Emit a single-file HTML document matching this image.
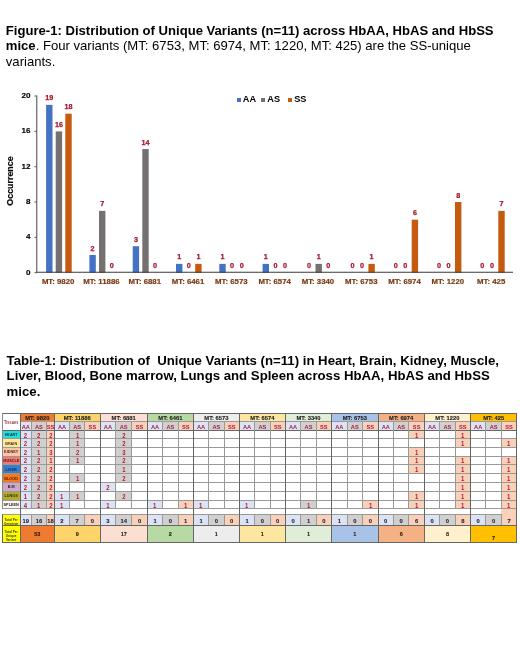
<!DOCTYPE html>
<html><head><meta charset="utf-8"><style>
*{margin:0;padding:0;box-sizing:border-box}
html,body{-webkit-font-smoothing:antialiased;width:520px;height:650px;background:#fff;overflow:hidden;position:relative;font-family:"Liberation Sans", sans-serif}
div,span,svg{position:absolute}
.cap{color:#000;white-space:normal}
.t{white-space:nowrap;display:block}
.ax{font-size:8.1px;font-weight:bold;color:#000;-webkit-text-stroke:0.15px #000;line-height:10px;text-align:right}
.dl{font-size:7.2px;font-weight:bold;color:#a8142c;-webkit-text-stroke:0.25px #a8142c;width:20px;text-align:center;line-height:10px}
.cl{font-size:7.8px;font-weight:bold;color:#7a3a14;-webkit-text-stroke:0.2px #7a3a14;width:50px;text-align:center;line-height:10px}
.lg{font-size:9.2px;font-weight:bold;color:#000;line-height:11px}
.yt{font-size:8.9px;font-weight:bold;color:#000;-webkit-text-stroke:0.15px #000;transform:rotate(-90deg);width:50px;text-align:center;line-height:10px}
.th{font-size:5.8px;font-weight:bold;color:#1e1e1e;text-align:center;line-height:7px;-webkit-text-stroke:0.12px #1e1e1e}
.sh{font-size:5.7px;font-weight:bold;color:#a8204a;text-align:center;line-height:7px}
.tis{font-size:4.6px;font-weight:bold;color:#a03a50;text-align:center;line-height:5px;transform:scaleX(0.85)}
.tn{font-size:4.4px;font-weight:bold;color:#333;text-align:center;line-height:5px;transform:scaleX(0.86);transform-origin:50% 50%}
.dv{font-size:6.6px;font-weight:bold;color:#b81a36;text-align:center;line-height:7px;transform:scaleX(0.9)}
.tv{font-size:5.8px;font-weight:bold;color:#1e1e30;text-align:center;line-height:7px;-webkit-text-stroke:0.1px #1e1e30}
.uv{font-size:5.5px;font-weight:bold;color:#2a1a0a;text-align:center;line-height:7px;-webkit-text-stroke:0.1px #2a1a0a}
.tl2{font-size:3.4px;font-weight:bold;color:#3a3a10;text-align:center;line-height:4.1px;transform:scaleX(0.92)}
</style></head>
<body><div id="root" style="left:0;top:0;width:520px;height:650px;will-change:transform;filter:blur(0.3px)">
<div class="cap" style="left:5.8px;top:22.92px;width:520px;font-size:13.1px;line-height:15.5px;white-space:nowrap">
<b>Figure-1: Distribution of Unique Variants (n=11) across HbAA, HbAS and HbSS</b><br><b>mice</b>. Four variants (MT: 6753, MT: 6974, MT: 1220, MT: 425) are the SS-unique<br>variants.</div>
<div class="cap" style="left:6.6px;top:352.5px;width:520px;font-size:13.2px;line-height:15.6px;font-weight:bold;white-space:nowrap">Table-1: Distribution of&nbsp; Unique Variants (n=11) in Heart, Brain, Kidney, Muscle,<br>Liver, Blood, Bone marrow, Lungs and Spleen across HbAA, HbAS and HbSS<br>mice.</div>
<svg width="520" height="650" style="position:absolute;left:0;top:0">
<line x1="36.7" y1="95.5" x2="36.7" y2="272" stroke="#7f7f7f" stroke-width="1.5"/>
<line x1="34.5" y1="272.70" x2="36.8" y2="272.70" stroke="#595959" stroke-width="1"/>
<line x1="34.5" y1="237.37" x2="36.8" y2="237.37" stroke="#595959" stroke-width="1"/>
<line x1="34.5" y1="202.04" x2="36.8" y2="202.04" stroke="#595959" stroke-width="1"/>
<line x1="34.5" y1="166.70" x2="36.8" y2="166.70" stroke="#595959" stroke-width="1"/>
<line x1="34.5" y1="131.37" x2="36.8" y2="131.37" stroke="#595959" stroke-width="1"/>
<line x1="34.5" y1="96.04" x2="36.8" y2="96.04" stroke="#595959" stroke-width="1"/>
<rect x="46.10" y="104.87" width="6.4" height="167.83" fill="#4472c4"/>
<rect x="55.70" y="131.37" width="6.4" height="141.33" fill="#767171"/>
<rect x="65.30" y="113.71" width="6.4" height="158.99" fill="#c55a11"/>
<rect x="89.40" y="255.03" width="6.4" height="17.67" fill="#4472c4"/>
<rect x="99.00" y="210.87" width="6.4" height="61.83" fill="#767171"/>
<rect x="132.70" y="246.20" width="6.4" height="26.50" fill="#4472c4"/>
<rect x="142.30" y="149.04" width="6.4" height="123.66" fill="#767171"/>
<rect x="176.00" y="263.87" width="6.4" height="8.83" fill="#4472c4"/>
<rect x="195.20" y="263.87" width="6.4" height="8.83" fill="#c55a11"/>
<rect x="219.30" y="263.87" width="6.4" height="8.83" fill="#4472c4"/>
<rect x="262.60" y="263.87" width="6.4" height="8.83" fill="#4472c4"/>
<rect x="315.50" y="263.87" width="6.4" height="8.83" fill="#767171"/>
<rect x="368.40" y="263.87" width="6.4" height="8.83" fill="#c55a11"/>
<rect x="411.70" y="219.70" width="6.4" height="53.00" fill="#c55a11"/>
<rect x="455.00" y="202.04" width="6.4" height="70.66" fill="#c55a11"/>
<rect x="498.30" y="210.87" width="6.4" height="61.83" fill="#c55a11"/>
<line x1="36" y1="272.2" x2="513" y2="272.2" stroke="#3a3a3a" stroke-width="1.1"/>
</svg>
<span class="t ax" style="right:489.6px;top:267.60px;">0</span>
<span class="t ax" style="right:489.6px;top:232.27px;">4</span>
<span class="t ax" style="right:489.6px;top:196.94px;">8</span>
<span class="t ax" style="right:489.6px;top:161.60px;">12</span>
<span class="t ax" style="right:489.6px;top:126.27px;">16</span>
<span class="t ax" style="right:489.6px;top:90.94px;">20</span>
<span class="t dl" style="left:39.30px;top:93.47px;">19</span>
<span class="t dl" style="left:48.90px;top:119.97px;">16</span>
<span class="t dl" style="left:58.50px;top:102.31px;">18</span>
<span class="t dl" style="left:82.60px;top:243.63px;">2</span>
<span class="t dl" style="left:92.20px;top:199.47px;">7</span>
<span class="t dl" style="left:101.80px;top:261.30px;">0</span>
<span class="t dl" style="left:125.90px;top:234.80px;">3</span>
<span class="t dl" style="left:135.50px;top:137.64px;">14</span>
<span class="t dl" style="left:145.10px;top:261.30px;">0</span>
<span class="t dl" style="left:169.20px;top:252.47px;">1</span>
<span class="t dl" style="left:178.80px;top:261.30px;">0</span>
<span class="t dl" style="left:188.40px;top:252.47px;">1</span>
<span class="t dl" style="left:212.50px;top:252.47px;">1</span>
<span class="t dl" style="left:222.10px;top:261.30px;">0</span>
<span class="t dl" style="left:231.70px;top:261.30px;">0</span>
<span class="t dl" style="left:255.80px;top:252.47px;">1</span>
<span class="t dl" style="left:265.40px;top:261.30px;">0</span>
<span class="t dl" style="left:275.00px;top:261.30px;">0</span>
<span class="t dl" style="left:299.10px;top:261.30px;">0</span>
<span class="t dl" style="left:308.70px;top:252.47px;">1</span>
<span class="t dl" style="left:318.30px;top:261.30px;">0</span>
<span class="t dl" style="left:342.40px;top:261.30px;">0</span>
<span class="t dl" style="left:352.00px;top:261.30px;">0</span>
<span class="t dl" style="left:361.60px;top:252.47px;">1</span>
<span class="t dl" style="left:385.70px;top:261.30px;">0</span>
<span class="t dl" style="left:395.30px;top:261.30px;">0</span>
<span class="t dl" style="left:404.90px;top:208.30px;">6</span>
<span class="t dl" style="left:429.00px;top:261.30px;">0</span>
<span class="t dl" style="left:438.60px;top:261.30px;">0</span>
<span class="t dl" style="left:448.20px;top:190.64px;">8</span>
<span class="t dl" style="left:472.30px;top:261.30px;">0</span>
<span class="t dl" style="left:481.90px;top:261.30px;">0</span>
<span class="t dl" style="left:491.50px;top:199.47px;">7</span>
<span class="t cl" style="left:33.15px;top:277px;">MT: 9820</span>
<span class="t cl" style="left:76.45px;top:277px;">MT: 11886</span>
<span class="t cl" style="left:119.75px;top:277px;">MT: 6881</span>
<span class="t cl" style="left:163.05px;top:277px;">MT: 6461</span>
<span class="t cl" style="left:206.35px;top:277px;">MT: 6573</span>
<span class="t cl" style="left:249.65px;top:277px;">MT: 6574</span>
<span class="t cl" style="left:292.95px;top:277px;">MT: 3340</span>
<span class="t cl" style="left:336.25px;top:277px;">MT: 6753</span>
<span class="t cl" style="left:379.55px;top:277px;">MT: 6974</span>
<span class="t cl" style="left:422.85px;top:277px;">MT: 1220</span>
<span class="t cl" style="left:466.15px;top:277px;">MT: 425</span>
<div style="left:236.60px;top:97.80px;width:4.00px;height:4.00px;background:#4472c4"></div>
<span class="t lg" style="left:242.80px;top:94px;">AA</span>
<div style="left:261.10px;top:97.80px;width:4.00px;height:4.00px;background:#767171"></div>
<span class="t lg" style="left:267.30px;top:94px;">AS</span>
<div style="left:288.00px;top:97.80px;width:4.00px;height:4.00px;background:#c55a11"></div>
<span class="t lg" style="left:294.20px;top:94px;">SS</span>
<span class="t yt" style="left:-15px;top:176px;">Occurrence</span>
<div style="left:2.00px;top:413.30px;width:514.80px;height:128.70px;background:#fff"></div>
<div style="left:20.30px;top:413.30px;width:34.10px;height:8.50px;background:#ef7b30"></div>
<span class="t th" style="left:20.30px;width:34.10px;top:414.50px;">MT: 9820</span>
<div style="left:54.40px;top:413.30px;width:45.60px;height:8.50px;background:#fdd36a"></div>
<span class="t th" style="left:54.40px;width:45.60px;top:414.50px;">MT: 11886</span>
<div style="left:100.00px;top:413.30px;width:47.40px;height:8.50px;background:#fbdfd2"></div>
<span class="t th" style="left:100.00px;width:47.40px;top:414.50px;">MT: 6881</span>
<div style="left:147.40px;top:413.30px;width:46.00px;height:8.50px;background:#b7daa2"></div>
<span class="t th" style="left:147.40px;width:46.00px;top:414.50px;">MT: 6461</span>
<div style="left:193.40px;top:413.30px;width:46.00px;height:8.50px;background:#ededed"></div>
<span class="t th" style="left:193.40px;width:46.00px;top:414.50px;">MT: 6573</span>
<div style="left:239.40px;top:413.30px;width:46.00px;height:8.50px;background:#fde6a0"></div>
<span class="t th" style="left:239.40px;width:46.00px;top:414.50px;">MT: 6574</span>
<div style="left:285.40px;top:413.30px;width:46.20px;height:8.50px;background:#e0eed8"></div>
<span class="t th" style="left:285.40px;width:46.20px;top:414.50px;">MT: 3340</span>
<div style="left:331.60px;top:413.30px;width:46.40px;height:8.50px;background:#a9c2e8"></div>
<span class="t th" style="left:331.60px;width:46.40px;top:414.50px;">MT: 6753</span>
<div style="left:378.00px;top:413.30px;width:46.40px;height:8.50px;background:#f4b183"></div>
<span class="t th" style="left:378.00px;width:46.40px;top:414.50px;">MT: 6974</span>
<div style="left:424.40px;top:413.30px;width:46.10px;height:8.50px;background:#fff1cc"></div>
<span class="t th" style="left:424.40px;width:46.10px;top:414.50px;">MT: 1220</span>
<div style="left:470.50px;top:413.30px;width:46.30px;height:8.50px;background:#ffc000"></div>
<span class="t th" style="left:470.50px;width:46.30px;top:414.50px;">MT: 425</span>
<div style="left:20.30px;top:421.80px;width:11.00px;height:8.50px;background:#dbe3f4"></div>
<span class="t sh" style="left:20.30px;width:11.00px;top:423.70px;">AA</span>
<div style="left:31.30px;top:421.80px;width:15.30px;height:8.50px;background:#d2cfcf"></div>
<span class="t sh" style="left:31.30px;width:15.30px;top:423.70px;">AS</span>
<div style="left:46.60px;top:421.80px;width:7.80px;height:8.50px;background:#f9d0b8"></div>
<span class="t sh" style="left:46.60px;width:7.80px;top:423.70px;">SS</span>
<div style="left:54.40px;top:421.80px;width:15.20px;height:8.50px;background:#dbe3f4"></div>
<span class="t sh" style="left:54.40px;width:15.20px;top:423.70px;">AA</span>
<div style="left:69.60px;top:421.80px;width:15.20px;height:8.50px;background:#d2cfcf"></div>
<span class="t sh" style="left:69.60px;width:15.20px;top:423.70px;">AS</span>
<div style="left:84.80px;top:421.80px;width:15.20px;height:8.50px;background:#f9d0b8"></div>
<span class="t sh" style="left:84.80px;width:15.20px;top:423.70px;">SS</span>
<div style="left:100.00px;top:421.80px;width:15.80px;height:8.50px;background:#dbe3f4"></div>
<span class="t sh" style="left:100.00px;width:15.80px;top:423.70px;">AA</span>
<div style="left:115.80px;top:421.80px;width:15.80px;height:8.50px;background:#d2cfcf"></div>
<span class="t sh" style="left:115.80px;width:15.80px;top:423.70px;">AS</span>
<div style="left:131.60px;top:421.80px;width:15.80px;height:8.50px;background:#f9d0b8"></div>
<span class="t sh" style="left:131.60px;width:15.80px;top:423.70px;">SS</span>
<div style="left:147.40px;top:421.80px;width:15.33px;height:8.50px;background:#dbe3f4"></div>
<span class="t sh" style="left:147.40px;width:15.33px;top:423.70px;">AA</span>
<div style="left:162.73px;top:421.80px;width:15.33px;height:8.50px;background:#d2cfcf"></div>
<span class="t sh" style="left:162.73px;width:15.33px;top:423.70px;">AS</span>
<div style="left:178.07px;top:421.80px;width:15.33px;height:8.50px;background:#f9d0b8"></div>
<span class="t sh" style="left:178.07px;width:15.33px;top:423.70px;">SS</span>
<div style="left:193.40px;top:421.80px;width:15.33px;height:8.50px;background:#dbe3f4"></div>
<span class="t sh" style="left:193.40px;width:15.33px;top:423.70px;">AA</span>
<div style="left:208.73px;top:421.80px;width:15.33px;height:8.50px;background:#d2cfcf"></div>
<span class="t sh" style="left:208.73px;width:15.33px;top:423.70px;">AS</span>
<div style="left:224.07px;top:421.80px;width:15.33px;height:8.50px;background:#f9d0b8"></div>
<span class="t sh" style="left:224.07px;width:15.33px;top:423.70px;">SS</span>
<div style="left:239.40px;top:421.80px;width:15.33px;height:8.50px;background:#dbe3f4"></div>
<span class="t sh" style="left:239.40px;width:15.33px;top:423.70px;">AA</span>
<div style="left:254.73px;top:421.80px;width:15.33px;height:8.50px;background:#d2cfcf"></div>
<span class="t sh" style="left:254.73px;width:15.33px;top:423.70px;">AS</span>
<div style="left:270.07px;top:421.80px;width:15.33px;height:8.50px;background:#f9d0b8"></div>
<span class="t sh" style="left:270.07px;width:15.33px;top:423.70px;">SS</span>
<div style="left:285.40px;top:421.80px;width:15.40px;height:8.50px;background:#dbe3f4"></div>
<span class="t sh" style="left:285.40px;width:15.40px;top:423.70px;">AA</span>
<div style="left:300.80px;top:421.80px;width:15.40px;height:8.50px;background:#d2cfcf"></div>
<span class="t sh" style="left:300.80px;width:15.40px;top:423.70px;">AS</span>
<div style="left:316.20px;top:421.80px;width:15.40px;height:8.50px;background:#f9d0b8"></div>
<span class="t sh" style="left:316.20px;width:15.40px;top:423.70px;">SS</span>
<div style="left:331.60px;top:421.80px;width:15.47px;height:8.50px;background:#dbe3f4"></div>
<span class="t sh" style="left:331.60px;width:15.47px;top:423.70px;">AA</span>
<div style="left:347.07px;top:421.80px;width:15.47px;height:8.50px;background:#d2cfcf"></div>
<span class="t sh" style="left:347.07px;width:15.47px;top:423.70px;">AS</span>
<div style="left:362.53px;top:421.80px;width:15.47px;height:8.50px;background:#f9d0b8"></div>
<span class="t sh" style="left:362.53px;width:15.47px;top:423.70px;">SS</span>
<div style="left:378.00px;top:421.80px;width:15.47px;height:8.50px;background:#dbe3f4"></div>
<span class="t sh" style="left:378.00px;width:15.47px;top:423.70px;">AA</span>
<div style="left:393.47px;top:421.80px;width:15.47px;height:8.50px;background:#d2cfcf"></div>
<span class="t sh" style="left:393.47px;width:15.47px;top:423.70px;">AS</span>
<div style="left:408.93px;top:421.80px;width:15.47px;height:8.50px;background:#f9d0b8"></div>
<span class="t sh" style="left:408.93px;width:15.47px;top:423.70px;">SS</span>
<div style="left:424.40px;top:421.80px;width:15.37px;height:8.50px;background:#dbe3f4"></div>
<span class="t sh" style="left:424.40px;width:15.37px;top:423.70px;">AA</span>
<div style="left:439.77px;top:421.80px;width:15.37px;height:8.50px;background:#d2cfcf"></div>
<span class="t sh" style="left:439.77px;width:15.37px;top:423.70px;">AS</span>
<div style="left:455.13px;top:421.80px;width:15.37px;height:8.50px;background:#f9d0b8"></div>
<span class="t sh" style="left:455.13px;width:15.37px;top:423.70px;">SS</span>
<div style="left:470.50px;top:421.80px;width:15.43px;height:8.50px;background:#dbe3f4"></div>
<span class="t sh" style="left:470.50px;width:15.43px;top:423.70px;">AA</span>
<div style="left:485.93px;top:421.80px;width:15.43px;height:8.50px;background:#d2cfcf"></div>
<span class="t sh" style="left:485.93px;width:15.43px;top:423.70px;">AS</span>
<div style="left:501.37px;top:421.80px;width:15.43px;height:8.50px;background:#f9d0b8"></div>
<span class="t sh" style="left:501.37px;width:15.43px;top:423.70px;">SS</span>
<span class="t tis" style="left:2.00px;width:18.30px;top:420.40px;">Tissues</span>
<div style="left:2.00px;top:430.30px;width:18.30px;height:8.30px;background:#22dede"></div>
<span class="t tn" style="left:2.00px;width:18.30px;top:432.05px;color:#123c3c">HEART</span>
<div style="left:20.30px;top:430.30px;width:11.00px;height:8.30px;background:#dbe3f4"></div>
<span class="t dv" style="left:20.30px;width:11.00px;top:431.55px;">2</span>
<div style="left:31.30px;top:430.30px;width:15.30px;height:8.30px;background:#d2cfcf"></div>
<span class="t dv" style="left:31.30px;width:15.30px;top:431.55px;">2</span>
<div style="left:46.60px;top:430.30px;width:7.80px;height:8.30px;background:#f9d0b8"></div>
<span class="t dv" style="left:46.60px;width:7.80px;top:431.55px;">2</span>
<div style="left:69.60px;top:430.30px;width:15.20px;height:8.30px;background:#d2cfcf"></div>
<span class="t dv" style="left:69.60px;width:15.20px;top:431.55px;">1</span>
<div style="left:115.80px;top:430.30px;width:15.80px;height:8.30px;background:#d2cfcf"></div>
<span class="t dv" style="left:115.80px;width:15.80px;top:431.55px;">2</span>
<div style="left:408.93px;top:430.30px;width:15.47px;height:8.30px;background:#f9d0b8"></div>
<span class="t dv" style="left:408.93px;width:15.47px;top:431.55px;">1</span>
<div style="left:455.13px;top:430.30px;width:15.37px;height:8.30px;background:#f9d0b8"></div>
<span class="t dv" style="left:455.13px;width:15.37px;top:431.55px;">1</span>
<div style="left:2.00px;top:438.60px;width:18.30px;height:8.90px;background:#ffe79a"></div>
<span class="t tn" style="left:2.00px;width:18.30px;top:440.65px;color:#4a3a10">BRAIN</span>
<div style="left:20.30px;top:438.60px;width:11.00px;height:8.90px;background:#dbe3f4"></div>
<span class="t dv" style="left:20.30px;width:11.00px;top:440.15px;">2</span>
<div style="left:31.30px;top:438.60px;width:15.30px;height:8.90px;background:#d2cfcf"></div>
<span class="t dv" style="left:31.30px;width:15.30px;top:440.15px;">2</span>
<div style="left:46.60px;top:438.60px;width:7.80px;height:8.90px;background:#f9d0b8"></div>
<span class="t dv" style="left:46.60px;width:7.80px;top:440.15px;">2</span>
<div style="left:69.60px;top:438.60px;width:15.20px;height:8.90px;background:#d2cfcf"></div>
<span class="t dv" style="left:69.60px;width:15.20px;top:440.15px;">1</span>
<div style="left:115.80px;top:438.60px;width:15.80px;height:8.90px;background:#d2cfcf"></div>
<span class="t dv" style="left:115.80px;width:15.80px;top:440.15px;">2</span>
<div style="left:455.13px;top:438.60px;width:15.37px;height:8.90px;background:#f9d0b8"></div>
<span class="t dv" style="left:455.13px;width:15.37px;top:440.15px;">1</span>
<div style="left:501.37px;top:438.60px;width:15.43px;height:8.90px;background:#f9d0b8"></div>
<span class="t dv" style="left:501.37px;width:15.43px;top:440.15px;">1</span>
<div style="left:2.00px;top:447.50px;width:18.30px;height:8.60px;background:#f8c6a8"></div>
<span class="t tn" style="left:2.00px;width:18.30px;top:449.40px;color:#5a2a10">KIDNEY</span>
<div style="left:20.30px;top:447.50px;width:11.00px;height:8.60px;background:#dbe3f4"></div>
<span class="t dv" style="left:20.30px;width:11.00px;top:448.90px;">2</span>
<div style="left:31.30px;top:447.50px;width:15.30px;height:8.60px;background:#d2cfcf"></div>
<span class="t dv" style="left:31.30px;width:15.30px;top:448.90px;">1</span>
<div style="left:46.60px;top:447.50px;width:7.80px;height:8.60px;background:#f9d0b8"></div>
<span class="t dv" style="left:46.60px;width:7.80px;top:448.90px;">3</span>
<div style="left:69.60px;top:447.50px;width:15.20px;height:8.60px;background:#d2cfcf"></div>
<span class="t dv" style="left:69.60px;width:15.20px;top:448.90px;">2</span>
<div style="left:115.80px;top:447.50px;width:15.80px;height:8.60px;background:#d2cfcf"></div>
<span class="t dv" style="left:115.80px;width:15.80px;top:448.90px;">3</span>
<div style="left:408.93px;top:447.50px;width:15.47px;height:8.60px;background:#f9d0b8"></div>
<span class="t dv" style="left:408.93px;width:15.47px;top:448.90px;">1</span>
<div style="left:2.00px;top:456.10px;width:18.30px;height:8.40px;background:#f27a74"></div>
<span class="t tn" style="left:2.00px;width:18.30px;top:457.90px;color:#5a1010">MUSCLE</span>
<div style="left:20.30px;top:456.10px;width:11.00px;height:8.40px;background:#dbe3f4"></div>
<span class="t dv" style="left:20.30px;width:11.00px;top:457.40px;">2</span>
<div style="left:31.30px;top:456.10px;width:15.30px;height:8.40px;background:#d2cfcf"></div>
<span class="t dv" style="left:31.30px;width:15.30px;top:457.40px;">2</span>
<div style="left:46.60px;top:456.10px;width:7.80px;height:8.40px;background:#f9d0b8"></div>
<span class="t dv" style="left:46.60px;width:7.80px;top:457.40px;">1</span>
<div style="left:69.60px;top:456.10px;width:15.20px;height:8.40px;background:#d2cfcf"></div>
<span class="t dv" style="left:69.60px;width:15.20px;top:457.40px;">1</span>
<div style="left:115.80px;top:456.10px;width:15.80px;height:8.40px;background:#d2cfcf"></div>
<span class="t dv" style="left:115.80px;width:15.80px;top:457.40px;">2</span>
<div style="left:408.93px;top:456.10px;width:15.47px;height:8.40px;background:#f9d0b8"></div>
<span class="t dv" style="left:408.93px;width:15.47px;top:457.40px;">1</span>
<div style="left:455.13px;top:456.10px;width:15.37px;height:8.40px;background:#f9d0b8"></div>
<span class="t dv" style="left:455.13px;width:15.37px;top:457.40px;">1</span>
<div style="left:501.37px;top:456.10px;width:15.43px;height:8.40px;background:#f9d0b8"></div>
<span class="t dv" style="left:501.37px;width:15.43px;top:457.40px;">1</span>
<div style="left:2.00px;top:464.50px;width:18.30px;height:9.00px;background:#3d7cc6"></div>
<span class="t tn" style="left:2.00px;width:18.30px;top:466.60px;color:#10306a">LIVER</span>
<div style="left:20.30px;top:464.50px;width:11.00px;height:9.00px;background:#dbe3f4"></div>
<span class="t dv" style="left:20.30px;width:11.00px;top:466.10px;">2</span>
<div style="left:31.30px;top:464.50px;width:15.30px;height:9.00px;background:#d2cfcf"></div>
<span class="t dv" style="left:31.30px;width:15.30px;top:466.10px;">2</span>
<div style="left:46.60px;top:464.50px;width:7.80px;height:9.00px;background:#f9d0b8"></div>
<span class="t dv" style="left:46.60px;width:7.80px;top:466.10px;">2</span>
<div style="left:115.80px;top:464.50px;width:15.80px;height:9.00px;background:#d2cfcf"></div>
<span class="t dv" style="left:115.80px;width:15.80px;top:466.10px;">1</span>
<div style="left:408.93px;top:464.50px;width:15.47px;height:9.00px;background:#f9d0b8"></div>
<span class="t dv" style="left:408.93px;width:15.47px;top:466.10px;">1</span>
<div style="left:455.13px;top:464.50px;width:15.37px;height:9.00px;background:#f9d0b8"></div>
<span class="t dv" style="left:455.13px;width:15.37px;top:466.10px;">1</span>
<div style="left:501.37px;top:464.50px;width:15.43px;height:9.00px;background:#f9d0b8"></div>
<span class="t dv" style="left:501.37px;width:15.43px;top:466.10px;">1</span>
<div style="left:2.00px;top:473.50px;width:18.30px;height:8.80px;background:#f4781f"></div>
<span class="t tn" style="left:2.00px;width:18.30px;top:475.50px;color:#5a1a00">BLOOD</span>
<div style="left:20.30px;top:473.50px;width:11.00px;height:8.80px;background:#dbe3f4"></div>
<span class="t dv" style="left:20.30px;width:11.00px;top:475.00px;">2</span>
<div style="left:31.30px;top:473.50px;width:15.30px;height:8.80px;background:#d2cfcf"></div>
<span class="t dv" style="left:31.30px;width:15.30px;top:475.00px;">2</span>
<div style="left:46.60px;top:473.50px;width:7.80px;height:8.80px;background:#f9d0b8"></div>
<span class="t dv" style="left:46.60px;width:7.80px;top:475.00px;">2</span>
<div style="left:69.60px;top:473.50px;width:15.20px;height:8.80px;background:#d2cfcf"></div>
<span class="t dv" style="left:69.60px;width:15.20px;top:475.00px;">1</span>
<div style="left:115.80px;top:473.50px;width:15.80px;height:8.80px;background:#d2cfcf"></div>
<span class="t dv" style="left:115.80px;width:15.80px;top:475.00px;">2</span>
<div style="left:455.13px;top:473.50px;width:15.37px;height:8.80px;background:#f9d0b8"></div>
<span class="t dv" style="left:455.13px;width:15.37px;top:475.00px;">1</span>
<div style="left:501.37px;top:473.50px;width:15.43px;height:8.80px;background:#f9d0b8"></div>
<span class="t dv" style="left:501.37px;width:15.43px;top:475.00px;">1</span>
<div style="left:2.00px;top:482.30px;width:18.30px;height:8.80px;background:#d0a8c6"></div>
<span class="t tn" style="left:2.00px;width:18.30px;top:484.30px;color:#1a1a40">B.M</span>
<div style="left:20.30px;top:482.30px;width:11.00px;height:8.80px;background:#dbe3f4"></div>
<span class="t dv" style="left:20.30px;width:11.00px;top:483.80px;">2</span>
<div style="left:31.30px;top:482.30px;width:15.30px;height:8.80px;background:#d2cfcf"></div>
<span class="t dv" style="left:31.30px;width:15.30px;top:483.80px;">2</span>
<div style="left:46.60px;top:482.30px;width:7.80px;height:8.80px;background:#f9d0b8"></div>
<span class="t dv" style="left:46.60px;width:7.80px;top:483.80px;">2</span>
<div style="left:100.00px;top:482.30px;width:15.80px;height:8.80px;background:#dbe3f4"></div>
<span class="t dv" style="left:100.00px;width:15.80px;top:483.80px;">2</span>
<div style="left:455.13px;top:482.30px;width:15.37px;height:8.80px;background:#f9d0b8"></div>
<span class="t dv" style="left:455.13px;width:15.37px;top:483.80px;">1</span>
<div style="left:501.37px;top:482.30px;width:15.43px;height:8.80px;background:#f9d0b8"></div>
<span class="t dv" style="left:501.37px;width:15.43px;top:483.80px;">1</span>
<div style="left:2.00px;top:491.10px;width:18.30px;height:9.10px;background:#b3aa36"></div>
<span class="t tn" style="left:2.00px;width:18.30px;top:493.25px;color:#3a3000">LUNGS</span>
<div style="left:20.30px;top:491.10px;width:11.00px;height:9.10px;background:#dbe3f4"></div>
<span class="t dv" style="left:20.30px;width:11.00px;top:492.75px;">1</span>
<div style="left:31.30px;top:491.10px;width:15.30px;height:9.10px;background:#d2cfcf"></div>
<span class="t dv" style="left:31.30px;width:15.30px;top:492.75px;">2</span>
<div style="left:46.60px;top:491.10px;width:7.80px;height:9.10px;background:#f9d0b8"></div>
<span class="t dv" style="left:46.60px;width:7.80px;top:492.75px;">2</span>
<div style="left:54.40px;top:491.10px;width:15.20px;height:9.10px;background:#dbe3f4"></div>
<span class="t dv" style="left:54.40px;width:15.20px;top:492.75px;">1</span>
<div style="left:69.60px;top:491.10px;width:15.20px;height:9.10px;background:#d2cfcf"></div>
<span class="t dv" style="left:69.60px;width:15.20px;top:492.75px;">1</span>
<div style="left:115.80px;top:491.10px;width:15.80px;height:9.10px;background:#d2cfcf"></div>
<span class="t dv" style="left:115.80px;width:15.80px;top:492.75px;">2</span>
<div style="left:408.93px;top:491.10px;width:15.47px;height:9.10px;background:#f9d0b8"></div>
<span class="t dv" style="left:408.93px;width:15.47px;top:492.75px;">1</span>
<div style="left:455.13px;top:491.10px;width:15.37px;height:9.10px;background:#f9d0b8"></div>
<span class="t dv" style="left:455.13px;width:15.37px;top:492.75px;">1</span>
<div style="left:501.37px;top:491.10px;width:15.43px;height:9.10px;background:#f9d0b8"></div>
<span class="t dv" style="left:501.37px;width:15.43px;top:492.75px;">1</span>
<div style="left:2.00px;top:500.20px;width:18.30px;height:8.40px;background:#fdf6f3"></div>
<span class="t tn" style="left:2.00px;width:18.30px;top:502.00px;color:#222222">SPLEEN</span>
<div style="left:20.30px;top:500.20px;width:11.00px;height:8.40px;background:#dbe3f4"></div>
<span class="t dv" style="left:20.30px;width:11.00px;top:501.50px;">4</span>
<div style="left:31.30px;top:500.20px;width:15.30px;height:8.40px;background:#d2cfcf"></div>
<span class="t dv" style="left:31.30px;width:15.30px;top:501.50px;">1</span>
<div style="left:46.60px;top:500.20px;width:7.80px;height:8.40px;background:#f9d0b8"></div>
<span class="t dv" style="left:46.60px;width:7.80px;top:501.50px;">2</span>
<div style="left:54.40px;top:500.20px;width:15.20px;height:8.40px;background:#dbe3f4"></div>
<span class="t dv" style="left:54.40px;width:15.20px;top:501.50px;">1</span>
<div style="left:100.00px;top:500.20px;width:15.80px;height:8.40px;background:#dbe3f4"></div>
<span class="t dv" style="left:100.00px;width:15.80px;top:501.50px;">1</span>
<div style="left:147.40px;top:500.20px;width:15.33px;height:8.40px;background:#dbe3f4"></div>
<span class="t dv" style="left:147.40px;width:15.33px;top:501.50px;">1</span>
<div style="left:178.07px;top:500.20px;width:15.33px;height:8.40px;background:#f9d0b8"></div>
<span class="t dv" style="left:178.07px;width:15.33px;top:501.50px;">1</span>
<div style="left:193.40px;top:500.20px;width:15.33px;height:8.40px;background:#dbe3f4"></div>
<span class="t dv" style="left:193.40px;width:15.33px;top:501.50px;">1</span>
<div style="left:239.40px;top:500.20px;width:15.33px;height:8.40px;background:#dbe3f4"></div>
<span class="t dv" style="left:239.40px;width:15.33px;top:501.50px;">1</span>
<div style="left:300.80px;top:500.20px;width:15.40px;height:8.40px;background:#d2cfcf"></div>
<span class="t dv" style="left:300.80px;width:15.40px;top:501.50px;">1</span>
<div style="left:362.53px;top:500.20px;width:15.47px;height:8.40px;background:#f9d0b8"></div>
<span class="t dv" style="left:362.53px;width:15.47px;top:501.50px;">1</span>
<div style="left:408.93px;top:500.20px;width:15.47px;height:8.40px;background:#f9d0b8"></div>
<span class="t dv" style="left:408.93px;width:15.47px;top:501.50px;">1</span>
<div style="left:455.13px;top:500.20px;width:15.37px;height:8.40px;background:#f9d0b8"></div>
<span class="t dv" style="left:455.13px;width:15.37px;top:501.50px;">1</span>
<div style="left:501.37px;top:500.20px;width:15.43px;height:8.40px;background:#f9d0b8"></div>
<span class="t dv" style="left:501.37px;width:15.43px;top:501.50px;">1</span>
<div style="left:501.37px;top:508.60px;width:15.43px;height:5.50px;background:#f9d0b8"></div>
<div style="left:20.30px;top:514.10px;width:11.00px;height:11.40px;background:#dbe3f4"></div>
<span class="t tv" style="left:20.30px;width:11.00px;top:518.20px;">19</span>
<div style="left:31.30px;top:514.10px;width:15.30px;height:11.40px;background:#d2cfcf"></div>
<span class="t tv" style="left:31.30px;width:15.30px;top:518.20px;">16</span>
<div style="left:46.60px;top:514.10px;width:7.80px;height:11.40px;background:#f9d0b8"></div>
<span class="t tv" style="left:46.60px;width:7.80px;top:518.20px;">18</span>
<div style="left:54.40px;top:514.10px;width:15.20px;height:11.40px;background:#dbe3f4"></div>
<span class="t tv" style="left:54.40px;width:15.20px;top:518.20px;">2</span>
<div style="left:69.60px;top:514.10px;width:15.20px;height:11.40px;background:#d2cfcf"></div>
<span class="t tv" style="left:69.60px;width:15.20px;top:518.20px;">7</span>
<div style="left:84.80px;top:514.10px;width:15.20px;height:11.40px;background:#f9d0b8"></div>
<span class="t tv" style="left:84.80px;width:15.20px;top:518.20px;">0</span>
<div style="left:100.00px;top:514.10px;width:15.80px;height:11.40px;background:#dbe3f4"></div>
<span class="t tv" style="left:100.00px;width:15.80px;top:518.20px;">3</span>
<div style="left:115.80px;top:514.10px;width:15.80px;height:11.40px;background:#d2cfcf"></div>
<span class="t tv" style="left:115.80px;width:15.80px;top:518.20px;">14</span>
<div style="left:131.60px;top:514.10px;width:15.80px;height:11.40px;background:#f9d0b8"></div>
<span class="t tv" style="left:131.60px;width:15.80px;top:518.20px;">0</span>
<div style="left:147.40px;top:514.10px;width:15.33px;height:11.40px;background:#dbe3f4"></div>
<span class="t tv" style="left:147.40px;width:15.33px;top:518.20px;">1</span>
<div style="left:162.73px;top:514.10px;width:15.33px;height:11.40px;background:#d2cfcf"></div>
<span class="t tv" style="left:162.73px;width:15.33px;top:518.20px;">0</span>
<div style="left:178.07px;top:514.10px;width:15.33px;height:11.40px;background:#f9d0b8"></div>
<span class="t tv" style="left:178.07px;width:15.33px;top:518.20px;">1</span>
<div style="left:193.40px;top:514.10px;width:15.33px;height:11.40px;background:#dbe3f4"></div>
<span class="t tv" style="left:193.40px;width:15.33px;top:518.20px;">1</span>
<div style="left:208.73px;top:514.10px;width:15.33px;height:11.40px;background:#d2cfcf"></div>
<span class="t tv" style="left:208.73px;width:15.33px;top:518.20px;">0</span>
<div style="left:224.07px;top:514.10px;width:15.33px;height:11.40px;background:#f9d0b8"></div>
<span class="t tv" style="left:224.07px;width:15.33px;top:518.20px;">0</span>
<div style="left:239.40px;top:514.10px;width:15.33px;height:11.40px;background:#dbe3f4"></div>
<span class="t tv" style="left:239.40px;width:15.33px;top:518.20px;">1</span>
<div style="left:254.73px;top:514.10px;width:15.33px;height:11.40px;background:#d2cfcf"></div>
<span class="t tv" style="left:254.73px;width:15.33px;top:518.20px;">0</span>
<div style="left:270.07px;top:514.10px;width:15.33px;height:11.40px;background:#f9d0b8"></div>
<span class="t tv" style="left:270.07px;width:15.33px;top:518.20px;">0</span>
<div style="left:285.40px;top:514.10px;width:15.40px;height:11.40px;background:#dbe3f4"></div>
<span class="t tv" style="left:285.40px;width:15.40px;top:518.20px;">0</span>
<div style="left:300.80px;top:514.10px;width:15.40px;height:11.40px;background:#d2cfcf"></div>
<span class="t tv" style="left:300.80px;width:15.40px;top:518.20px;">1</span>
<div style="left:316.20px;top:514.10px;width:15.40px;height:11.40px;background:#f9d0b8"></div>
<span class="t tv" style="left:316.20px;width:15.40px;top:518.20px;">0</span>
<div style="left:331.60px;top:514.10px;width:15.47px;height:11.40px;background:#dbe3f4"></div>
<span class="t tv" style="left:331.60px;width:15.47px;top:518.20px;">1</span>
<div style="left:347.07px;top:514.10px;width:15.47px;height:11.40px;background:#d2cfcf"></div>
<span class="t tv" style="left:347.07px;width:15.47px;top:518.20px;">0</span>
<div style="left:362.53px;top:514.10px;width:15.47px;height:11.40px;background:#f9d0b8"></div>
<span class="t tv" style="left:362.53px;width:15.47px;top:518.20px;">0</span>
<div style="left:378.00px;top:514.10px;width:15.47px;height:11.40px;background:#dbe3f4"></div>
<span class="t tv" style="left:378.00px;width:15.47px;top:518.20px;">0</span>
<div style="left:393.47px;top:514.10px;width:15.47px;height:11.40px;background:#d2cfcf"></div>
<span class="t tv" style="left:393.47px;width:15.47px;top:518.20px;">0</span>
<div style="left:408.93px;top:514.10px;width:15.47px;height:11.40px;background:#f9d0b8"></div>
<span class="t tv" style="left:408.93px;width:15.47px;top:518.20px;">6</span>
<div style="left:424.40px;top:514.10px;width:15.37px;height:11.40px;background:#dbe3f4"></div>
<span class="t tv" style="left:424.40px;width:15.37px;top:518.20px;">0</span>
<div style="left:439.77px;top:514.10px;width:15.37px;height:11.40px;background:#d2cfcf"></div>
<span class="t tv" style="left:439.77px;width:15.37px;top:518.20px;">0</span>
<div style="left:455.13px;top:514.10px;width:15.37px;height:11.40px;background:#f9d0b8"></div>
<span class="t tv" style="left:455.13px;width:15.37px;top:518.20px;">8</span>
<div style="left:470.50px;top:514.10px;width:15.43px;height:11.40px;background:#dbe3f4"></div>
<span class="t tv" style="left:470.50px;width:15.43px;top:518.20px;">0</span>
<div style="left:485.93px;top:514.10px;width:15.43px;height:11.40px;background:#d2cfcf"></div>
<span class="t tv" style="left:485.93px;width:15.43px;top:518.20px;">0</span>
<div style="left:501.37px;top:514.10px;width:15.43px;height:11.40px;background:#f9d0b8"></div>
<span class="t tv" style="left:501.37px;width:15.43px;top:518.20px;">7</span>
<div style="left:2.00px;top:514.10px;width:18.30px;height:11.40px;background:#ffff00"></div>
<span class="t tl2" style="left:2.00px;width:18.30px;top:517.60px;">Total Per<br>Genotype</span>
<div style="left:2.00px;top:525.50px;width:18.30px;height:16.50px;background:#ffff00"></div>
<span class="t tl2" style="left:2.00px;width:18.30px;top:529.90px;">Total Per<br>Unique<br>Variant</span>
<div style="left:20.30px;top:525.50px;width:34.10px;height:16.50px;background:#ef7b30"></div>
<span class="t uv" style="left:20.30px;width:34.10px;top:530.80px;">53</span>
<div style="left:54.40px;top:525.50px;width:45.60px;height:16.50px;background:#fdd36a"></div>
<span class="t uv" style="left:54.40px;width:45.60px;top:530.80px;">9</span>
<div style="left:100.00px;top:525.50px;width:47.40px;height:16.50px;background:#fbdfd2"></div>
<span class="t uv" style="left:100.00px;width:47.40px;top:530.80px;">17</span>
<div style="left:147.40px;top:525.50px;width:46.00px;height:16.50px;background:#b7daa2"></div>
<span class="t uv" style="left:147.40px;width:46.00px;top:530.80px;">2</span>
<div style="left:193.40px;top:525.50px;width:46.00px;height:16.50px;background:#ededed"></div>
<span class="t uv" style="left:193.40px;width:46.00px;top:530.80px;">1</span>
<div style="left:239.40px;top:525.50px;width:46.00px;height:16.50px;background:#fde6a0"></div>
<span class="t uv" style="left:239.40px;width:46.00px;top:530.80px;">1</span>
<div style="left:285.40px;top:525.50px;width:46.20px;height:16.50px;background:#e0eed8"></div>
<span class="t uv" style="left:285.40px;width:46.20px;top:530.80px;">1</span>
<div style="left:331.60px;top:525.50px;width:46.40px;height:16.50px;background:#a9c2e8"></div>
<span class="t uv" style="left:331.60px;width:46.40px;top:530.80px;">1</span>
<div style="left:378.00px;top:525.50px;width:46.40px;height:16.50px;background:#f4b183"></div>
<span class="t uv" style="left:378.00px;width:46.40px;top:530.80px;">6</span>
<div style="left:424.40px;top:525.50px;width:46.10px;height:16.50px;background:#fff1cc"></div>
<span class="t uv" style="left:424.40px;width:46.10px;top:530.80px;">8</span>
<div style="left:470.50px;top:525.50px;width:46.30px;height:16.50px;background:#ffc000"></div>
<span class="t uv" style="left:470.50px;width:46.30px;top:534.90px;">7</span>
<div style="left:2.00px;top:412.80px;width:514.80px;height:1.0px;background:#666666"></div>
<div style="left:20.30px;top:421.30px;width:496.50px;height:1.0px;background:#999999"></div>
<div style="left:2.00px;top:429.80px;width:514.80px;height:1.0px;background:#666666"></div>
<div style="left:2.00px;top:438.10px;width:514.80px;height:1.0px;background:#999999"></div>
<div style="left:2.00px;top:447.00px;width:514.80px;height:1.0px;background:#999999"></div>
<div style="left:2.00px;top:455.60px;width:514.80px;height:1.0px;background:#999999"></div>
<div style="left:2.00px;top:464.00px;width:514.80px;height:1.0px;background:#999999"></div>
<div style="left:2.00px;top:473.00px;width:514.80px;height:1.0px;background:#999999"></div>
<div style="left:2.00px;top:481.80px;width:514.80px;height:1.0px;background:#999999"></div>
<div style="left:2.00px;top:490.60px;width:514.80px;height:1.0px;background:#999999"></div>
<div style="left:2.00px;top:499.70px;width:514.80px;height:1.0px;background:#999999"></div>
<div style="left:2.00px;top:508.10px;width:514.80px;height:1.0px;background:#999999"></div>
<div style="left:2.00px;top:513.60px;width:499.37px;height:1.0px;background:#999999"></div>
<div style="left:2.00px;top:525.00px;width:514.80px;height:1.0px;background:#666666"></div>
<div style="left:2.00px;top:541.50px;width:514.80px;height:1.0px;background:#666666"></div>
<div style="left:1.50px;top:413.30px;width:1.0px;height:95.30px;background:#8a8a8a"></div>
<div style="left:1.50px;top:514.10px;width:1.0px;height:27.90px;background:#666666"></div>
<div style="left:19.80px;top:413.30px;width:1.0px;height:128.70px;background:#666666"></div>
<div style="left:53.90px;top:413.30px;width:1.0px;height:128.70px;background:#666666"></div>
<div style="left:99.50px;top:413.30px;width:1.0px;height:128.70px;background:#666666"></div>
<div style="left:146.90px;top:413.30px;width:1.0px;height:128.70px;background:#666666"></div>
<div style="left:192.90px;top:413.30px;width:1.0px;height:128.70px;background:#666666"></div>
<div style="left:238.90px;top:413.30px;width:1.0px;height:128.70px;background:#666666"></div>
<div style="left:284.90px;top:413.30px;width:1.0px;height:128.70px;background:#666666"></div>
<div style="left:331.10px;top:413.30px;width:1.0px;height:128.70px;background:#666666"></div>
<div style="left:377.50px;top:413.30px;width:1.0px;height:128.70px;background:#666666"></div>
<div style="left:423.90px;top:413.30px;width:1.0px;height:128.70px;background:#666666"></div>
<div style="left:470.00px;top:413.30px;width:1.0px;height:128.70px;background:#666666"></div>
<div style="left:516.30px;top:413.30px;width:1.0px;height:128.70px;background:#666666"></div>
<div style="left:30.80px;top:421.80px;width:1.0px;height:86.80px;background:#999999"></div>
<div style="left:30.80px;top:514.10px;width:1.0px;height:11.40px;background:#999999"></div>
<div style="left:46.10px;top:421.80px;width:1.0px;height:86.80px;background:#999999"></div>
<div style="left:46.10px;top:514.10px;width:1.0px;height:11.40px;background:#999999"></div>
<div style="left:69.10px;top:421.80px;width:1.0px;height:86.80px;background:#999999"></div>
<div style="left:69.10px;top:514.10px;width:1.0px;height:11.40px;background:#999999"></div>
<div style="left:84.30px;top:421.80px;width:1.0px;height:86.80px;background:#999999"></div>
<div style="left:84.30px;top:514.10px;width:1.0px;height:11.40px;background:#999999"></div>
<div style="left:115.30px;top:421.80px;width:1.0px;height:86.80px;background:#999999"></div>
<div style="left:115.30px;top:514.10px;width:1.0px;height:11.40px;background:#999999"></div>
<div style="left:131.10px;top:421.80px;width:1.0px;height:86.80px;background:#999999"></div>
<div style="left:131.10px;top:514.10px;width:1.0px;height:11.40px;background:#999999"></div>
<div style="left:162.23px;top:421.80px;width:1.0px;height:86.80px;background:#999999"></div>
<div style="left:162.23px;top:514.10px;width:1.0px;height:11.40px;background:#999999"></div>
<div style="left:177.57px;top:421.80px;width:1.0px;height:86.80px;background:#999999"></div>
<div style="left:177.57px;top:514.10px;width:1.0px;height:11.40px;background:#999999"></div>
<div style="left:208.23px;top:421.80px;width:1.0px;height:86.80px;background:#999999"></div>
<div style="left:208.23px;top:514.10px;width:1.0px;height:11.40px;background:#999999"></div>
<div style="left:223.57px;top:421.80px;width:1.0px;height:86.80px;background:#999999"></div>
<div style="left:223.57px;top:514.10px;width:1.0px;height:11.40px;background:#999999"></div>
<div style="left:254.23px;top:421.80px;width:1.0px;height:86.80px;background:#999999"></div>
<div style="left:254.23px;top:514.10px;width:1.0px;height:11.40px;background:#999999"></div>
<div style="left:269.57px;top:421.80px;width:1.0px;height:86.80px;background:#999999"></div>
<div style="left:269.57px;top:514.10px;width:1.0px;height:11.40px;background:#999999"></div>
<div style="left:300.30px;top:421.80px;width:1.0px;height:86.80px;background:#999999"></div>
<div style="left:300.30px;top:514.10px;width:1.0px;height:11.40px;background:#999999"></div>
<div style="left:315.70px;top:421.80px;width:1.0px;height:86.80px;background:#999999"></div>
<div style="left:315.70px;top:514.10px;width:1.0px;height:11.40px;background:#999999"></div>
<div style="left:346.57px;top:421.80px;width:1.0px;height:86.80px;background:#999999"></div>
<div style="left:346.57px;top:514.10px;width:1.0px;height:11.40px;background:#999999"></div>
<div style="left:362.03px;top:421.80px;width:1.0px;height:86.80px;background:#999999"></div>
<div style="left:362.03px;top:514.10px;width:1.0px;height:11.40px;background:#999999"></div>
<div style="left:392.97px;top:421.80px;width:1.0px;height:86.80px;background:#999999"></div>
<div style="left:392.97px;top:514.10px;width:1.0px;height:11.40px;background:#999999"></div>
<div style="left:408.43px;top:421.80px;width:1.0px;height:86.80px;background:#999999"></div>
<div style="left:408.43px;top:514.10px;width:1.0px;height:11.40px;background:#999999"></div>
<div style="left:439.27px;top:421.80px;width:1.0px;height:86.80px;background:#999999"></div>
<div style="left:439.27px;top:514.10px;width:1.0px;height:11.40px;background:#999999"></div>
<div style="left:454.63px;top:421.80px;width:1.0px;height:86.80px;background:#999999"></div>
<div style="left:454.63px;top:514.10px;width:1.0px;height:11.40px;background:#999999"></div>
<div style="left:485.43px;top:421.80px;width:1.0px;height:86.80px;background:#999999"></div>
<div style="left:485.43px;top:514.10px;width:1.0px;height:11.40px;background:#999999"></div>
<div style="left:500.87px;top:421.80px;width:1.0px;height:86.80px;background:#999999"></div>
<div style="left:500.87px;top:514.10px;width:1.0px;height:11.40px;background:#999999"></div>
</div></body></html>
